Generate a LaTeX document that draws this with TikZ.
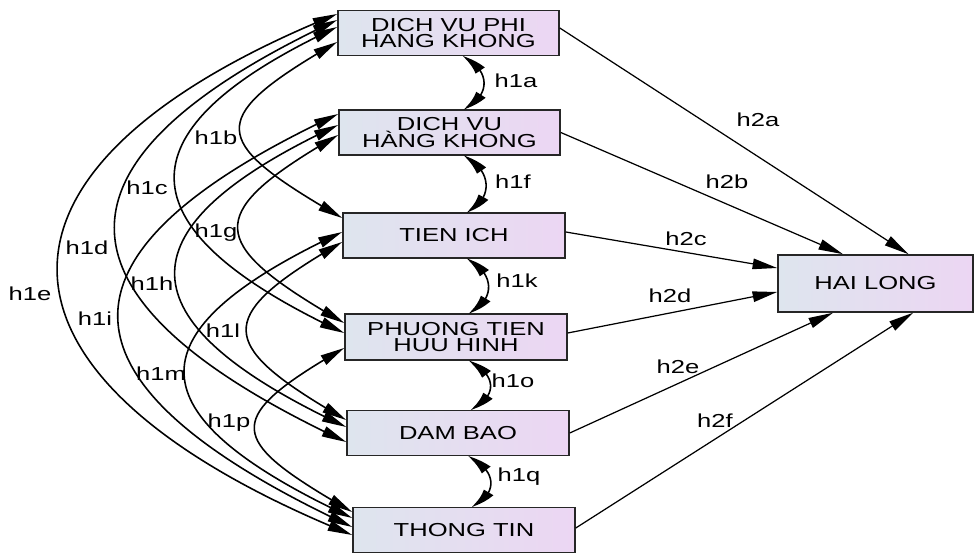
\documentclass[tikz,border=0pt]{standalone}
\usepackage{fontspec}
\setmainfont[FakeStretch=1.36]{Liberation Sans}
\usetikzlibrary{arrows.meta,bending,calc}
\definecolor{boxleft}{RGB}{222,229,238}
\definecolor{boxright}{RGB}{236,214,243}

\begin{document}
\begin{tikzpicture}[
    var/.style={draw=black!85, line width=0.9pt, left color=boxleft, right color=boxright,
        minimum width=4.42cm, minimum height=0.9cm, inner sep=0pt, align=center,
        font=\fontsize{10.7}{9.5}\selectfont},
    cov/.style={{Triangle[length=14pt,width=6pt,bend]}-{Triangle[length=14pt,width=6pt,bend]}, line width=0.9pt},
    reg/.style={-{Triangle[length=14pt,width=6pt]}, line width=0.7pt},
    lbl/.style={font=\fontsize{10.7}{12}\selectfont, inner sep=1pt}]
    \useasboundingbox (0,0) rectangle (19.5,11.06);

    \node[var] (dvphk) at (8.97,10.40) {DICH VU PHI\\HANG KHONG};
    \node[var] (dvhk) at (8.99,8.41) {DICH VU\\HÀNG KHONG};
    \node[var, minimum width=4.44cm] (ti) at (9.08,6.35) {TIEN ICH};
    \node[var, minimum width=4.44cm, minimum height=0.92cm] (pthh) at (9.12,4.32) {PHUONG TIEN\\HUU HINH};
    \node[var, minimum width=4.44cm] (db) at (9.16,2.40) {DAM BAO};
    \node[var, minimum width=4.44cm] (tt) at (9.28,0.46) {THONG TIN};
    \node[var, minimum width=3.9cm, minimum height=1.14cm] (hl) at (17.51,5.39) {HAI LONG};

    \draw[cov] ($(dvphk.south)+(0.28,0)$) to[out=-25,in=25,distance=0.62cm] ($(dvhk.north)+(0.28,0)$);
    \draw[cov] ($(dvhk.south)+(0.28,0)$) to[out=-25,in=25,distance=0.62cm] ($(ti.north)+(0.25,0)$);
    \draw[cov] ($(ti.south)+(0.25,0)$) to[out=-25,in=25,distance=0.62cm] ($(pthh.north)+(0.25,0)$);
    \draw[cov] ($(pthh.south)+(0.25,0)$) to[out=-25,in=25,distance=0.62cm] ($(db.north)+(0.25,0)$);
    \draw[cov] ($(db.south)+(0.2,0)$) to[out=-25,in=25,distance=0.62cm] ($(tt.north)+(0.15,0)$);

    \draw[cov] ($(dvphk.west)+(0,-0.18)$) to[out=210,in=150,distance=3.09cm] ($(ti.west)+(0,0.35)$);
    \draw[cov] ($(dvphk.west)+(0,0.12)$) to[out=205,in=155,distance=4.90cm] ($(pthh.west)+(0,0.08)$);
    \draw[cov] ($(dvphk.west)+(0,0.26)$) to[out=205,in=155,distance=6.69cm] ($(db.west)+(0,-0.18)$);
    \draw[cov] ($(dvphk.west)+(0,0.38)$) to[out=202,in=158,distance=8.27cm] ($(tt.west)+(0,-0.10)$);
    \draw[cov] ($(dvhk.west)+(0,-0.05)$) to[out=210,in=150,distance=3.19cm] ($(pthh.west)+(0,0.28)$);
    \draw[cov] ($(dvhk.west)+(0,0.15)$) to[out=205,in=155,distance=4.93cm] ($(db.west)+(0,0.12)$);
    \draw[cov] ($(dvhk.west)+(0,0.37)$) to[out=205,in=155,distance=6.69cm] ($(tt.west)+(0,0.06)$);
    \draw[cov] ($(ti.west)+(0,-0.13)$) to[out=210,in=150,distance=3.02cm] ($(db.west)+(0,0.26)$);
    \draw[cov] ($(ti.west)+(0,0.07)$) to[out=205,in=155,distance=4.80cm] ($(tt.west)+(0,0.24)$);
    \draw[cov] ($(pthh.west)+(0,-0.22)$) to[out=210,in=150,distance=2.89cm] ($(tt.west)+(0,0.36)$);

    \draw[reg] ($(dvphk.east)+(0,0.1)$) -- ($(hl.north)+(0.66,0)$);
    \draw[reg] (dvhk.east) -- ($(hl.north)+(-0.65,0)$);
    \draw[reg] ($(ti.east)+(0,0.07)$) -- ($(hl.west)+(0,0.31)$);
    \draw[reg] ($(pthh.east)+(0,0.08)$) -- ($(hl.west)+(0,-0.17)$);
    \draw[reg] (db.east) -- ($(hl.south)+(-0.85,0)$);
    \draw[reg] ($(tt.east)+(0,0.04)$) -- ($(hl.south)+(0.75,0)$);

    \node[lbl] (h1a) at (10.32,9.44) {h1a};
    \node[lbl] (h1b) at (4.32,8.30) {h1b};
    \node[lbl] (h1c) at (2.94,7.30) {h1c};
    \node[lbl] (h1d) at (1.74,6.10) {h1d};
    \node[lbl] (h1e) at (0.60,5.18) {h1e};
    \node[lbl] (h1f) at (10.26,7.42) {h1f};
    \node[lbl] (h1g) at (4.32,6.40) {h1g};
    \node[lbl] (h1h) at (3.04,5.38) {h1h};
    \node[lbl] (h1i) at (1.90,4.68) {h1i};
    \node[lbl] (h1k) at (10.34,5.44) {h1k};
    \node[lbl] (h1l) at (4.46,4.44) {h1l};
    \node[lbl] (h1m) at (3.22,3.58) {h1m};
    \node[lbl] (h1o) at (10.26,3.44) {h1o};
    \node[lbl] (h1p) at (4.58,2.60) {h1p};
    \node[lbl] (h1q) at (10.38,1.52) {h1q};
    \node[lbl] (h2a) at (15.16,8.66) {h2a};
    \node[lbl] (h2b) at (14.54,7.43) {h2b};
    \node[lbl] (h2c) at (13.72,6.28) {h2c};
    \node[lbl] (h2d) at (13.40,5.14) {h2d};
    \node[lbl] (h2e) at (13.56,3.72) {h2e};
    \node[lbl] (h2f) at (14.30,2.64) {h2f};
\end{tikzpicture}
\end{document}
